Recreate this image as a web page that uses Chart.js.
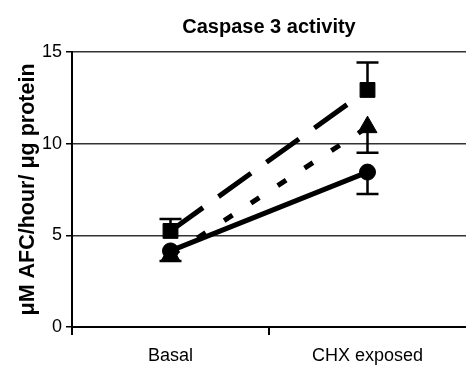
<!DOCTYPE html>
<html lang="en">
<head>
    <meta charset="UTF-8">
    <title>Caspase 3 activity</title>
    <script src="https://cdn.jsdelivr.net/npm/chart.js@4.4.0/dist/chart.umd.min.js"></script>
    <style>
        html, body { margin: 0; padding: 0; background: #fff; }
        #wrap { width: 466px; height: 366px; }
    </style>
</head>
<body>
<div id="wrap"><canvas id="caspase_chart"></canvas></div>

<script>
    // values
    const categories = ['Basal', 'CHX exposed'];
    const yTicks = [0, 5, 10, 15];

    const squareMeans = [5.24, 12.93];
    const squareErrUp = [0.65, 1.5];
    const squareErrDown = [0, 0];

    const triangleMeans = [3.9, 10.9];
    const triangleErrUp = [0, 0];
    const triangleErrDown = [0, 1.4];

    const circleMeans = [4.15, 8.45];
    const circleErrUp = [0, 0];
    const circleErrDown = [0.55, 1.2];

    const font = "'Liberation Sans', Arial, Helvetica, sans-serif";

    // little plugin for the error bars, drawn with the chart's own scales
    const errorBars = {
        id: 'errorBars',
        afterDatasetsDraw(chart) {
            const ctx = chart.ctx;
            const yScale = chart.scales.y;
            chart.data.datasets.forEach((ds, i) => {
                const meta = chart.getDatasetMeta(i);
                meta.data.forEach((pt, j) => {
                    const v = ds.data[j];
                    const ends = [];
                    if (ds.errUp[j]) ends.push(v + ds.errUp[j]);
                    if (ds.errDown[j]) ends.push(v - ds.errDown[j]);
                    ends.forEach(end => {
                        const yEnd = yScale.getPixelForValue(end);
                        ctx.save();
                        ctx.strokeStyle = '#000';
                        ctx.lineWidth = 2.5;
                        ctx.beginPath();
                        ctx.moveTo(pt.x, pt.y);
                        ctx.lineTo(pt.x, yEnd);
                        ctx.moveTo(pt.x - 11, yEnd);
                        ctx.lineTo(pt.x + 11, yEnd);
                        ctx.stroke();
                        ctx.restore();
                    });
                });
            });
        }
    };

    new Chart(document.getElementById('caspase_chart'), {
        type: 'line',
        data: {
            labels: categories,
            datasets: [
                {
                    label: 'circle',
                    data: circleMeans,
                    errUp: circleErrUp,
                    errDown: circleErrDown,
                    borderColor: '#000',
                    backgroundColor: '#000',
                    borderWidth: 5,
                    pointStyle: 'circle',
                    pointRadius: 8,
                    pointBorderWidth: 1
                },
                {
                    label: 'square',
                    data: squareMeans,
                    errUp: squareErrUp,
                    errDown: squareErrDown,
                    borderColor: '#000',
                    backgroundColor: '#000',
                    borderWidth: 5,
                    borderDash: [40, 19],
                    pointStyle: 'rect',
                    pointRadius: 10.5,
                    pointBorderWidth: 1
                },
                {
                    label: 'triangle',
                    data: triangleMeans,
                    errUp: triangleErrUp,
                    errDown: triangleErrDown,
                    borderColor: '#000',
                    backgroundColor: '#000',
                    borderWidth: 5,
                    borderDash: [10, 22],
                    pointStyle: 'triangle',
                    pointRadius: 11,
                    pointBorderWidth: 1
                }
            ]
        },
        options: {
            responsive: true,
            maintainAspectRatio: false,
            animation: false,
            layout: { autoPadding: false, padding: 0 },
            plugins: {
                legend: { display: false },
                tooltip: { enabled: false },
                title: {
                    display: true,
                    text: 'Caspase 3 activity',
                    fullSize: false,
                    color: '#000',
                    font: { family: font, size: 20, weight: 'bold' },
                    padding: { top: 15, bottom: 13 }
                }
            },
            scales: {
                x: {
                    offset: true,
                    afterFit: (scale) => { scale.height = 39; },
                    grid: {
                        offset: true,
                        drawOnChartArea: false,
                        drawTicks: true,
                        tickLength: 8,
                        // no tick mark at the right edge
                        color: (c) => c.type === 'scale' ? 'rgba(0,0,0,0)' : '#000',
                        lineWidth: 2
                    },
                    border: { color: '#000', width: 2 },
                    ticks: {
                        color: '#000',
                        padding: 10,
                        font: { family: font, size: 18 }
                    }
                },
                y: {
                    min: 0,
                    max: 15,
                    afterFit: (scale) => { scale.width = 72; },
                    afterBuildTicks: (scale) => {
                        scale.ticks = yTicks.map(v => ({ value: v }));
                    },
                    grid: {
                        color: '#333',
                        lineWidth: 1.5,
                        drawTicks: true,
                        tickLength: 6,
                        tickColor: '#000'
                    },
                    border: { color: '#000', width: 2 },
                    ticks: {
                        color: '#000',
                        padding: 4,
                        font: { family: font, size: 18 }
                    },
                    title: {
                        display: true,
                        text: 'μM AFC/hour/ μg protein',
                        color: '#000',
                        font: { family: font, size: 21.5, weight: 'bold' },
                        padding: { top: 15, bottom: 0 }
                    }
                }
            }
        },
        plugins: [errorBars]
    });
</script>
</body>
</html>
